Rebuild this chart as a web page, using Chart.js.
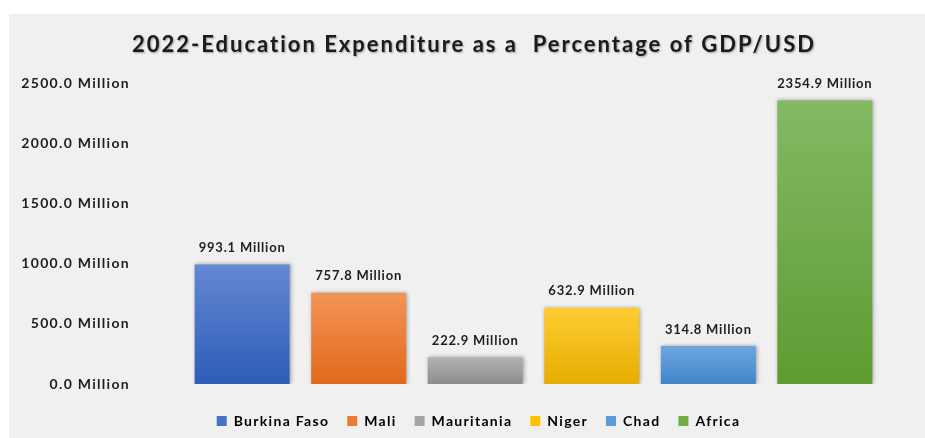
<!DOCTYPE html>
<html>
<head>
<meta charset="utf-8">
<script src="https://cdn.jsdelivr.net/npm/chart.js@4"></script>
<style>
    body { margin: 0; background: #ffffff; }
    #panel { position: absolute; left: 9px; top: 14px; width: 916px; height: 424px; background: #f0f0f0; }
</style>
</head>
<body>
<div id="panel"><canvas id="edu_chart" width="916" height="424"></canvas></div>
<script>
/**
 * Education expenditure chart
 */

const chartTitle = '2022-Education Expenditure as a  Percentage of GDP/USD';
const countries = ['Burkina Faso', 'Mali', 'Mauritania', 'Niger', 'Chad', 'Africa'];
const spending = [993.1, 757.8, 222.9, 632.9, 314.8, 2354.9];
const yTicks = [0, 500, 1000, 1500, 2000, 2500];
// top / bottom gradient colours
const colorsTop = ['#6488d2', '#f29459', '#b3b3b3', '#ffcd33', '#6fa6df', '#84b964'];
const colorsBottom = ['#2d5db8', '#e2691b', '#8c8c8c', '#e5ad00', '#3f85c8', '#5c9c31'];
const legendColors = ['#4472c4', '#ed7d31', '#a5a5a5', '#ffc000', '#5b9bd5', '#70ad47'];

const FONT = 'Lato, "Liberation Sans", sans-serif';

function barGradient(i) {
    return function (c) {
        const chart = c.chart;
        if (!chart.chartArea || !chart.scales.y) {
            return legendColors[i];
        }
        const y = chart.scales.y;
        const top = y.getPixelForValue(spending[i]);
        const bottom = y.getPixelForValue(0);
        const g = chart.ctx.createLinearGradient(0, top, 0, bottom);
        g.addColorStop(0, colorsTop[i]);
        g.addColorStop(1, colorsBottom[i]);
        return g;
    };
}

// wider text spacing for ticks and legend (set before layout measures text)
const spacing = {
    id: 'spacing',
    beforeUpdate(chart) {
        chart.ctx.letterSpacing = '1.3px';
    },
    afterLayout(chart) {
        // nudge the legend a bit to the right, like the original
        chart.legend.left += 13;
        chart.legend.right += 13;
    },
    beforeDraw(chart) {
        chart.ctx.letterSpacing = '1.3px';
    }
};

const titlePlugin = {
    id: 'bigTitle',
    afterDraw(chart) {
        const ctx = chart.ctx;
        ctx.save();
        ctx.font = 'bold 22px ' + FONT;
        ctx.letterSpacing = '2px';
        ctx.fillStyle = '#1b1b1b';
        ctx.textAlign = 'center';
        ctx.textBaseline = 'middle';
        ctx.shadowColor = 'rgba(0,0,0,0.35)';
        ctx.shadowBlur = 2;
        ctx.shadowOffsetX = 1;
        ctx.shadowOffsetY = 1;
        ctx.fillText(chartTitle, 465, 31);
        ctx.restore();
    }
};

const barShadow = {
    id: 'barShadow',
    beforeDatasetsDraw(chart) {
        const ctx = chart.ctx;
        ctx.save();
        ctx.shadowColor = 'rgba(0,0,0,0.35)';
        ctx.shadowBlur = 4;
        ctx.shadowOffsetX = 1;
        ctx.shadowOffsetY = 0;
    },
    afterDatasetsDraw(chart) {
        chart.ctx.restore();
    }
};

const valueLabels = {
    id: 'valueLabels',
    afterDatasetsDraw(chart) {
        const ctx = chart.ctx;
        ctx.save();
        ctx.font = 'bold 13px ' + FONT;
        ctx.letterSpacing = '0.8px';
        ctx.fillStyle = '#1e1e1e';
        ctx.textAlign = 'center';
        ctx.textBaseline = 'bottom';
        chart.data.datasets.forEach(function (ds, i) {
            const bar = chart.getDatasetMeta(i).data[0];
            ctx.fillText(ds.data[0].toFixed(1) + ' Million', bar.x, bar.y - 10);
        });
        ctx.restore();
    }
};

function showChart() {
    const ctx = document.getElementById('edu_chart');
    new Chart(ctx, {
        type: 'bar',
        data: {
            labels: [''],
            datasets: countries.map(function (name, i) {
                return {
                    label: name,
                    data: [spending[i]],
                    backgroundColor: barGradient(i),
                    borderWidth: 0,
                    barPercentage: 0.815,
                    categoryPercentage: 0.9
                };
            })
        },
        options: {
            responsive: false,
            animation: false,
            layout: {
                padding: { left: 0, right: 3, top: 69, bottom: 0 }
            },
            plugins: {
                tooltip: { enabled: false },
                legend: {
                    display: true,
                    position: 'bottom',
                    labels: {
                        boxWidth: 10,
                        boxHeight: 10,
                        padding: 18,
                        color: '#1e1e1e',
                        font: { family: FONT, size: 14, weight: 'bold' },
                        generateLabels: function (chart) {
                            return countries.map(function (name, i) {
                                return {
                                    text: name,
                                    fillStyle: legendColors[i],
                                    strokeStyle: legendColors[i],
                                    lineWidth: 0,
                                    datasetIndex: i
                                };
                            });
                        }
                    }
                }
            },
            scales: {
                x: {
                    display: true,
                    border: { display: false },
                    grid: { display: false, drawTicks: false },
                    ticks: { display: false },
                    afterFit: function (scale) {
                        scale.height = 12;
                    }
                },
                y: {
                    min: 0,
                    max: 2500,
                    afterBuildTicks: function (scale) {
                        scale.ticks = yTicks.map(function (v) { return { value: v }; });
                    },
                    afterFit: function (scale) {
                        scale.width = 136;
                    },
                    border: { display: false },
                    grid: { display: false, drawTicks: false },
                    ticks: {
                        padding: 15,
                        color: '#1e1e1e',
                        font: { family: FONT, size: 14, weight: 'bold' },
                        callback: function (v) { return v.toFixed(1) + ' Million'; }
                    }
                }
            }
        },
        plugins: [spacing, titlePlugin, barShadow, valueLabels]
    });
}

showChart();
</script>
</body>
</html>
